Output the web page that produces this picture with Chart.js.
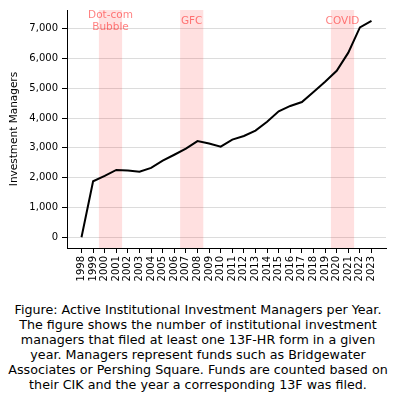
<!DOCTYPE html>
<html>
<head>
<meta charset="utf-8">
<script src="https://cdn.jsdelivr.net/npm/chart.js@4/dist/chart.umd.min.js"></script>
<style>
  body { margin: 0; background: #fff; width: 396px; height: 401px; overflow: hidden; }
  #wrap { width: 396px; height: 300px; }
  #caption {
    margin-top: 2px; text-align: center; white-space: nowrap;
    font-family: "DejaVu Sans", sans-serif; font-size: 12.7px; line-height: 15px; color: #000;
  }
</style>
</head>
<body>
<div id="wrap"><canvas id="chart" width="396" height="300"></canvas></div>
<div id="caption">
Figure: Active Institutional Investment Managers per Year.<br>
The figure shows the number of institutional investment<br>
managers that filed at least one 13F-HR form in a given<br>
year. Managers represent funds such as Bridgewater<br>
Associates or Pershing Square. Funds are counted based on<br>
their CIK and the year a corresponding 13F was filed.
</div>
<script>
// ---- data ----
const years = [1998, 1999, 2000, 2001, 2002, 2003, 2004, 2005, 2006, 2007, 2008, 2009, 2010,
               2011, 2012, 2013, 2014, 2015, 2016, 2017, 2018, 2019, 2020, 2021, 2022, 2023];
const managers = [0, 1880, 2060, 2260, 2240, 2200, 2330, 2570, 2770, 2975, 3230, 3150, 3040,
                  3280, 3400, 3580, 3880, 4230, 4410, 4540, 4880, 5220, 5590, 6200, 7050, 7270];
const yTicks = [0, 1000, 2000, 3000, 4000, 5000, 6000, 7000];
const spanStarts = [1999.5, 2006.5, 2019.5];
const spanEnds = [2001.5, 2008.5, 2021.5];
const spanLabels = [['Dot-com', 'Bubble'], ['GFC'], ['COVID']];

const FONT = '"DejaVu Sans", sans-serif';

// shaded crisis periods
const spansPlugin = {
    id: 'spans',
    beforeDatasetsDraw(chart){
        const ctx = chart.ctx;
        const x = chart.scales.x;
        const area = chart.chartArea;
        ctx.save();
        ctx.fillStyle = 'rgba(255,0,0,0.12)';
        for(let i = 0; i < spanStarts.length; i++){
            const x0 = x.getPixelForValue(spanStarts[i]);
            const x1 = x.getPixelForValue(spanEnds[i]);
            ctx.fillRect(x0, area.top, x1 - x0, area.bottom - area.top);
        }
        ctx.fillStyle = 'rgba(255,0,0,0.5)';
        ctx.font = '10.5px ' + FONT;
        ctx.textAlign = 'center';
        ctx.textBaseline = 'middle';
        for(let i = 0; i < spanLabels.length; i++){
            const cx = x.getPixelForValue((spanStarts[i] + spanEnds[i]) / 2);
            const lines = spanLabels[i];
            const lh = 12;
            const y0 = 21 - (lines.length - 1) * lh / 2;
            lines.forEach(function(t, j){ ctx.fillText(t, cx, y0 + j * lh); });
        }
        ctx.restore();
    }
};

const points = [];
for(let i = 0; i < years.length; i++){
    points.push({x: years[i], y: managers[i]});
}

new Chart(document.getElementById('chart'), {
    type: 'line',
    data: {
        datasets: [{
            data: points,
            borderColor: '#000',
            borderWidth: 2,
            pointRadius: 0,
            tension: 0,
            fill: false
        }]
    },
    options: {
        responsive: false,
        animation: false,
        layout: { padding: { top: 10, right: 10, left: 0, bottom: 0 } },
        plugins: { legend: { display: false }, tooltip: { enabled: false } },
        scales: {
            x: {
                type: 'linear',
                min: 1996.75,
                max: 2024.25,
                afterBuildTicks(scale){ scale.ticks = years.map(v => ({value: v})); },
                afterFit(scale){ scale.height = 52; },
                border: { color: '#000', width: 1 },
                grid: { drawOnChartArea: false, drawTicks: true, tickLength: 5, tickColor: '#000' },
                ticks: {
                    autoSkip: false, minRotation: 90, maxRotation: 90, padding: 3,
                    color: '#000', font: { family: FONT, size: 10 },
                    callback: v => String(v)
                }
            },
            y: {
                min: -363,
                max: 7633,
                afterBuildTicks(scale){ scale.ticks = yTicks.map(v => ({value: v})); },
                afterFit(scale){ scale.width = 67; },
                border: { color: '#000', width: 1 },
                grid: {
                    color: '#dcdcdc', lineWidth: 1, borderDash: [5, 3],
                    drawTicks: true, tickLength: 5, tickColor: '#000', tickBorderDash: []
                },
                ticks: {
                    padding: 4, color: '#000', font: { family: FONT, size: 10 },
                    callback: v => v.toLocaleString('en-US')
                },
                title: {
                    display: true, text: 'Investment Managers', color: '#000',
                    font: { family: FONT, size: 10.5 }, padding: { top: 8, bottom: 0 }
                }
            }
        }
    },
    plugins: [spansPlugin]
});
</script>
</body>
</html>
